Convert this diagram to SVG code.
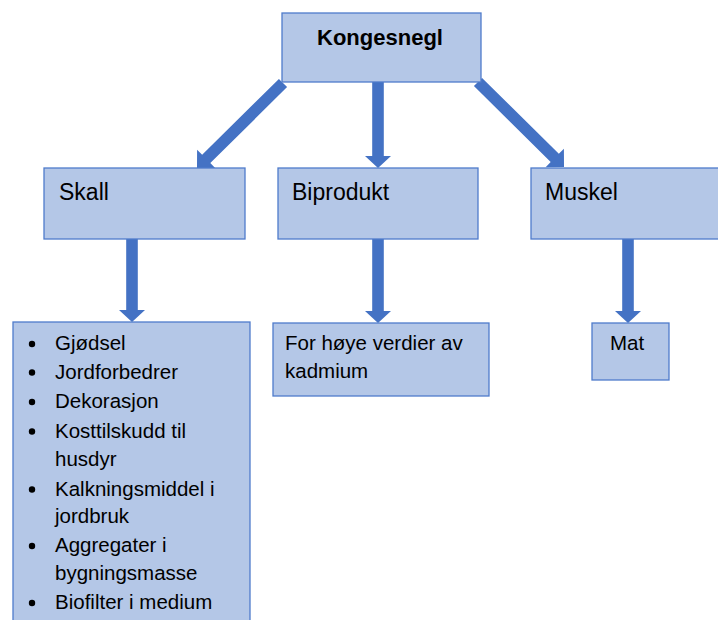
<svg xmlns="http://www.w3.org/2000/svg" xmlns:xlink="http://www.w3.org/1999/xlink" width="718" height="620" viewBox="0 0 718 620">
  <style>
    .box { fill: #B4C7E7; stroke: #4F7CCB; stroke-width: 1.3; }
    .arrow { fill: #4472C4; }
    .title { font-family: "Liberation Sans", Arial, sans-serif; font-size: 22px; font-weight: bold; fill: #000; }
    .head { font-family: "Liberation Sans", Arial, sans-serif; font-size: 23px; fill: #000; }
    .body { font-family: "Liberation Sans", Arial, sans-serif; font-size: 20.5px; fill: #000; }
    .dot { fill: #000; }
  </style>
  <defs>
    <!-- block arrow pointing along +x, length 121 -->
    <path id="diagArrow" d="M0,-5.8 H108 V-13 L121,0 L108,13 V5.8 H0 Z"/>
  </defs>

  <rect width="718" height="620" fill="#FFFFFF"/>

  <g id="connectors" class="arrow">
    <use xlink:href="#diagArrow" transform="translate(283,83) rotate(135.3)"/>
    <path d="M372.2,82 H383.8 V156 H391 L378,168 L365,156 H372.2 Z"/>
    <use xlink:href="#diagArrow" transform="translate(478,82) rotate(44.7)"/>
    <path d="M126.2,239 H137.8 V310 H145 L132,322 L119,310 H126.2 Z"/>
    <path d="M372.2,239 H383.8 V311 H391 L378,323 L365,311 H372.2 Z"/>
    <path d="M622.2,239 H633.8 V311 H641 L628,323 L615,311 H622.2 Z"/>
  </g>

  <g id="kongesnegl">
    <rect class="box" x="282" y="13" width="199" height="69"/>
    <text class="title" x="380" y="45" text-anchor="middle">Kongesnegl</text>
  </g>

  <g id="skall">
    <rect class="box" x="44" y="168" width="201" height="71"/>
    <text class="head" x="59" y="200">Skall</text>
  </g>

  <g id="biprodukt">
    <rect class="box" x="278" y="168" width="200" height="71"/>
    <text class="head" x="292" y="200">Biprodukt</text>
  </g>

  <g id="muskel">
    <rect class="box" x="531" y="168" width="200" height="71"/>
    <text class="head" x="545" y="200">Muskel</text>
  </g>

  <g id="skall-bruk">
    <rect class="box" x="13" y="322" width="237" height="310"/>
    <circle class="dot" cx="32" cy="344" r="3.2"/>
    <circle class="dot" cx="32" cy="372.5" r="3.2"/>
    <circle class="dot" cx="32" cy="402" r="3.2"/>
    <circle class="dot" cx="32" cy="431.5" r="3.2"/>
    <circle class="dot" cx="32" cy="489.5" r="3.2"/>
    <circle class="dot" cx="32" cy="546" r="3.2"/>
    <circle class="dot" cx="32" cy="603" r="3.2"/>
    <text class="body" x="55" y="350">Gjødsel</text>
    <text class="body" x="55" y="378.5">Jordforbedrer</text>
    <text class="body" x="55" y="408">Dekorasjon</text>
    <text class="body" x="55" y="437.5">Kosttilskudd til</text>
    <text class="body" x="55" y="466">husdyr</text>
    <text class="body" x="55" y="495.5">Kalkningsmiddel i</text>
    <text class="body" x="55" y="523">jordbruk</text>
    <text class="body" x="55" y="552">Aggregater i</text>
    <text class="body" x="55" y="580">bygningsmasse</text>
    <text class="body" x="55" y="609">Biofilter i medium</text>
  </g>

  <g id="kadmium">
    <rect class="box" x="273" y="323" width="216" height="73"/>
    <text class="body" x="285" y="350">For høye verdier av</text>
    <text class="body" x="285" y="378">kadmium</text>
  </g>

  <g id="mat">
    <rect class="box" x="592" y="323" width="77" height="57"/>
    <text class="body" x="610" y="350">Mat</text>
  </g>
</svg>
